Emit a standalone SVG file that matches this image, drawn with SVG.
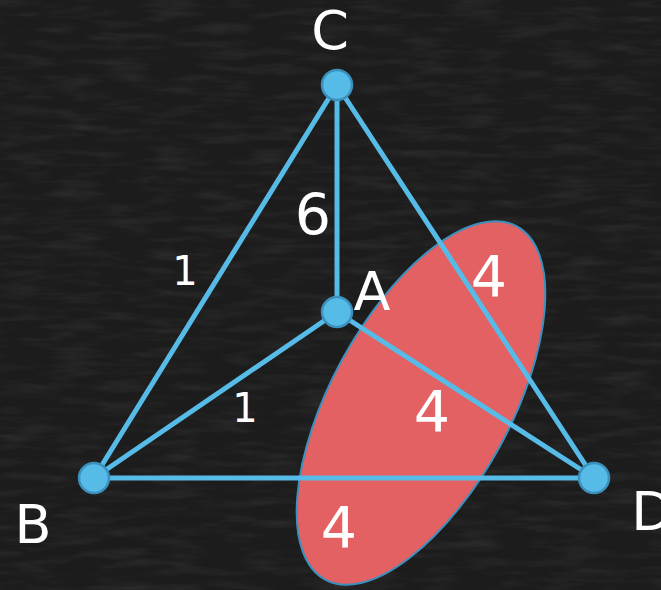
<svg xmlns="http://www.w3.org/2000/svg" width="661" height="590" viewBox="0 0 661 590">
<style>
.edge{stroke:#56bbe6;stroke-width:5;fill:none;stroke-linecap:round}
.node{fill:#56bbe6;stroke:#3c90bd;stroke-width:2.5}
.lbl{font-family:"DejaVu Sans","Liberation Sans",sans-serif;fill:#ffffff;text-anchor:middle}
.big{font-size:54px}
.num{font-size:57px}
.small{font-size:40px}
</style>
<defs>
<filter id="chalk" x="0" y="0" width="100%" height="100%">
<feTurbulence type="fractalNoise" baseFrequency="0.02 0.12" numOctaves="3" seed="4" result="n"/>
<feColorMatrix in="n" type="matrix" values="0 0 0 0 1  0 0 0 0 1  0 0 0 0 1  0.9 0 0 0 -0.38"/>
</filter>
</defs>
<rect width="661" height="590" fill="#1c1c1c"/>
<rect width="661" height="590" filter="url(#chalk)" opacity="0.15"/>
<g id="ellipse">
<ellipse cx="421" cy="403" rx="201" ry="90" transform="rotate(-61.5 421 403)" fill="#e36163" stroke="#3c90bd" stroke-width="2"/>
</g>
<g id="connectors">
<line class="edge" x1="337" y1="85" x2="337" y2="312"/>
<line class="edge" x1="337" y1="85" x2="94" y2="478"/>
<line class="edge" x1="337" y1="85" x2="594" y2="478"/>
<line class="edge" x1="337" y1="312" x2="94" y2="478"/>
<line class="edge" x1="337" y1="312" x2="594" y2="478"/>
<line class="edge" x1="94" y1="478" x2="594" y2="478"/>
</g>
<g id="edge-labels">
<text class="lbl num" x="313" y="235">6</text>
<text class="lbl small" x="185" y="285">1</text>
<text class="lbl small" x="245" y="422">1</text>
<text class="lbl num" x="489" y="297">4</text>
<text class="lbl num" x="432" y="432">4</text>
<text class="lbl num" x="339" y="548">4</text>
</g>
<g id="node-C">
<circle class="node" cx="337" cy="85" r="15"/>
<text class="lbl big" x="330" y="49">C</text>
</g>
<g id="node-A">
<circle class="node" cx="337" cy="312" r="15"/>
<text class="lbl big" x="372" y="310">A</text>
</g>
<g id="node-B">
<circle class="node" cx="94" cy="478" r="15"/>
<text class="lbl big" x="33" y="543">B</text>
</g>
<g id="node-D">
<circle class="node" cx="594" cy="478" r="15"/>
<text class="lbl big" x="652" y="530">D</text>
</g>
</svg>
